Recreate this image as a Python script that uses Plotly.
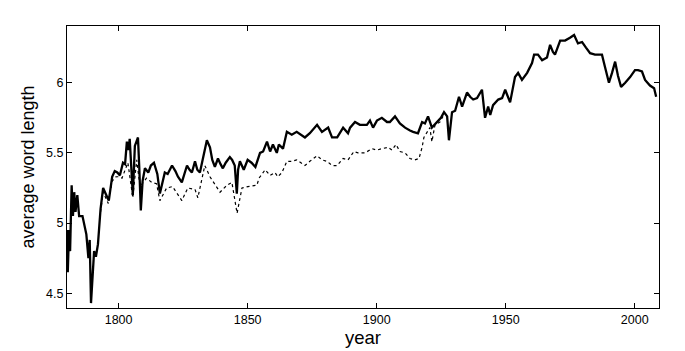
import plotly.graph_objects as go

# Solid series (all data)
solid_years = [1780.0, 1780.3, 1780.8, 1781.2, 1781.8, 1782.3, 1782.8, 1783.3, 1784.0, 1784.7,
               1786.0, 1787.5, 1788.3, 1788.8, 1789.3, 1789.8, 1790.5, 1791.2, 1792.0, 1793.0,
               1794.0, 1795.2, 1796.2, 1797.5, 1798.5, 1799.5, 1800.5, 1801.7, 1802.5, 1803.2,
               1803.8, 1804.3, 1805.0, 1805.5, 1806.3, 1807.0, 1807.5, 1808.0, 1808.6, 1809.3,
               1810.2, 1811.5, 1812.5, 1813.7, 1815.0, 1816.0, 1817.9, 1819.0, 1820.7, 1822.0,
               1823.0, 1824.5, 1826.5, 1827.5, 1828.4, 1829.6, 1830.5, 1831.5, 1833.0, 1834.2,
               1835.4, 1836.3, 1837.3, 1838.5, 1839.5, 1840.4, 1841.5, 1843.1, 1844.0, 1845.0,
               1845.8, 1846.3, 1847.0, 1848.5, 1850.0, 1851.5, 1853.0, 1854.8, 1856.0, 1857.5,
               1858.7, 1859.8, 1861.3, 1862.1, 1863.7, 1865.2, 1867.1, 1869.0, 1872.2, 1874.1,
               1876.9, 1878.8, 1881.2, 1882.7, 1884.7, 1887.0, 1888.9, 1889.7, 1891.6, 1893.5,
               1896.2, 1897.4, 1898.6, 1900.1, 1902.0, 1904.0, 1905.1, 1907.1, 1909.0, 1911.0,
               1912.9, 1914.1, 1916.0, 1917.6, 1918.7, 1919.9, 1921.4, 1923.4, 1924.9, 1926.1,
               1927.3, 1928.0, 1929.2, 1930.4, 1931.9, 1933.1, 1935.0, 1936.2, 1937.4, 1938.9,
               1940.8, 1942.0, 1943.2, 1944.0, 1945.1, 1947.1, 1948.6, 1949.8, 1951.7, 1953.6,
               1954.8, 1956.3, 1958.3, 1960.2, 1961.0, 1962.5, 1964.1, 1966.0, 1967.2, 1968.3,
               1969.1, 1971.1, 1973.0, 1974.9, 1976.5, 1978.0, 1979.6, 1981.1, 1982.7, 1984.6,
               1987.3, 1988.5, 1990.0, 1991.2, 1992.4, 1993.5, 1994.7, 1996.3, 1998.2, 2000.1,
               2001.3, 2002.8, 2004.0, 2005.9, 2007.5, 2008.3]
solid_values = [4.95, 4.65, 4.95, 4.80, 5.27, 5.05, 5.22, 5.08, 5.20, 5.05,
                5.05, 4.92, 4.75, 4.88, 4.43, 4.62, 4.80, 4.76, 4.85, 5.10,
                5.25, 5.20, 5.16, 5.33, 5.37, 5.36, 5.34, 5.43, 5.42, 5.58,
                5.52, 5.60, 5.35, 5.20, 5.55, 5.58, 5.61, 5.40, 5.09, 5.30,
                5.39, 5.36, 5.41, 5.43, 5.35, 5.21, 5.36, 5.35, 5.41, 5.37,
                5.33, 5.29, 5.41, 5.38, 5.36, 5.44, 5.38, 5.36, 5.48, 5.59,
                5.54, 5.45, 5.40, 5.46, 5.42, 5.39, 5.43, 5.47, 5.45, 5.41,
                5.21, 5.38, 5.44, 5.38, 5.45, 5.43, 5.40, 5.50, 5.51, 5.58,
                5.51, 5.56, 5.50, 5.56, 5.53, 5.65, 5.63, 5.65, 5.61, 5.64,
                5.70, 5.65, 5.68, 5.61, 5.61, 5.68, 5.64, 5.68, 5.72, 5.70,
                5.70, 5.73, 5.68, 5.73, 5.75, 5.72, 5.72, 5.76, 5.71, 5.68,
                5.66, 5.65, 5.64, 5.72, 5.71, 5.76, 5.68, 5.72, 5.75, 5.79,
                5.76, 5.59, 5.79, 5.80, 5.90, 5.83, 5.93, 5.90, 5.88, 5.89,
                5.95, 5.75, 5.83, 5.77, 5.84, 5.88, 5.89, 5.95, 5.86, 6.04,
                6.07, 6.02, 6.07, 6.14, 6.20, 6.20, 6.16, 6.18, 6.27, 6.22,
                6.20, 6.30, 6.30, 6.32, 6.34, 6.28, 6.29, 6.25, 6.21, 6.20,
                6.20, 6.11, 6.00, 6.07, 6.15, 6.05, 5.97, 6.00, 6.04, 6.09,
                6.09, 6.08, 6.02, 5.98, 5.96, 5.90]

# Dotted series (subset, 1793-1926)
dotted_years = [1793.0, 1794.0, 1796.0, 1797.5, 1799.0, 1800.0, 1801.3, 1802.5, 1803.6, 1805.5,
                1807.0, 1808.3, 1810.8, 1812.8, 1814.7, 1816.0, 1818.6, 1820.9, 1824.5, 1826.8,
                1829.6, 1830.7, 1833.4, 1835.4, 1838.1, 1839.3, 1842.0, 1843.9, 1845.9, 1847.8,
                1850.1, 1853.6, 1854.4, 1856.8, 1858.7, 1860.6, 1861.7, 1863.3, 1865.2, 1867.1,
                1869.0, 1872.2, 1874.1, 1876.9, 1878.8, 1880.8, 1882.7, 1884.7, 1887.0, 1888.9,
                1890.4, 1891.2, 1892.8, 1895.5, 1898.2, 1900.1, 1902.0, 1904.4, 1905.9, 1907.5,
                1909.0, 1911.0, 1912.9, 1914.8, 1916.4, 1917.6, 1918.3, 1919.5, 1920.6, 1921.4,
                1922.6, 1924.5, 1925.7]
dotted_values = [5.08, 5.22, 5.14, 5.30, 5.33, 5.33, 5.32, 5.38, 5.43, 5.18,
                 5.45, 5.26, 5.32, 5.29, 5.28, 5.16, 5.25, 5.26, 5.16, 5.25,
                 5.24, 5.18, 5.41, 5.33, 5.26, 5.22, 5.27, 5.29, 5.07, 5.25,
                 5.26, 5.27, 5.32, 5.38, 5.34, 5.36, 5.33, 5.36, 5.44, 5.44,
                 5.45, 5.41, 5.44, 5.48, 5.45, 5.44, 5.41, 5.41, 5.46, 5.45,
                 5.49, 5.51, 5.50, 5.50, 5.53, 5.52, 5.53, 5.54, 5.52, 5.56,
                 5.51, 5.50, 5.46, 5.45, 5.46, 5.54, 5.61, 5.65, 5.68, 5.58,
                 5.70, 5.72, 5.76]

x_ticks = [1800, 1850, 1900, 1950, 2000]
y_ticks = [4.5, 5, 5.5, 6]
y_ticktext = ["4.5", "5", "5.5", "6"]

fig = go.Figure()
fig.add_trace(go.Scatter(x=dotted_years, y=dotted_values, mode="lines",
                         line=dict(color="black", width=1.2, dash="dot"), showlegend=False))
fig.add_trace(go.Scatter(x=solid_years, y=solid_values, mode="lines",
                         line=dict(color="black", width=2.3), showlegend=False))

font_family = "Arial, Liberation Sans, sans-serif"
# the page body adds an 8px offset, so the figure is sized to 677x343
fig.update_layout(
    width=677, height=343,
    margin=dict(l=59, r=26, t=18, b=43, autoexpand=False),
    paper_bgcolor="white", plot_bgcolor="white",
    font=dict(family=font_family, color="black", size=12.5),
    xaxis=dict(range=[1780, 2009.4], tickvals=x_ticks, ticks="inside", ticklen=5,
               tickcolor="black", showline=True, linecolor="black", linewidth=1,
               mirror="ticks", showgrid=False, zeroline=False,
               tickfont=dict(size=12.5), automargin=False,
               title=dict(text="year", font=dict(size=18.5), standoff=0)),
    yaxis=dict(range=[4.395, 6.404], tickvals=y_ticks, ticktext=y_ticktext, ticks="inside",
               ticklen=5, tickcolor="black", showline=True, linecolor="black", linewidth=1,
               mirror="ticks", showgrid=False, zeroline=False,
               tickfont=dict(size=12.5), automargin=False,
               title=dict(text="average word length", font=dict(size=18), standoff=6)),
)

fig.write_html("out.html")
